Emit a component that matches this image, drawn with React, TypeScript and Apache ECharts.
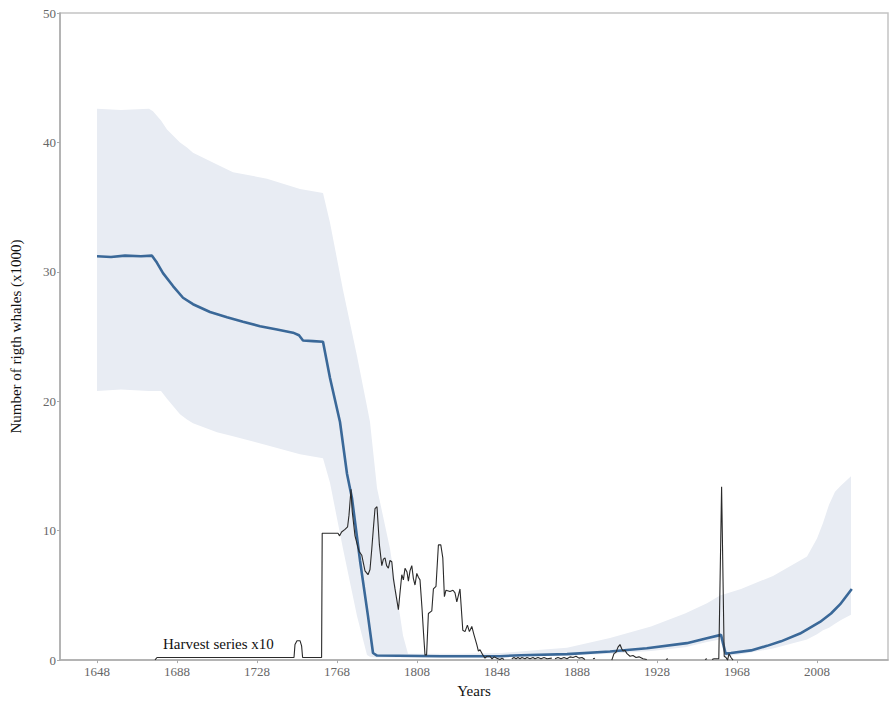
import React, { useEffect, useRef } from "react";
import * as echarts from "echarts";

// ---- Data ----
const xTicks = [1648, 1688, 1728, 1768, 1808, 1848, 1888, 1928, 1968, 2008];

// Confidence band (years, lower bound, upper bound), thousands of whales
const bandYears = [1648, 1660, 1674, 1676, 1680, 1683, 1689.5, 1693, 1696, 1708, 1716, 1733, 1749.5, 1761, 1764.5, 1771, 1778, 1783, 1784.5, 1788, 1794.5, 1801, 1803.5, 1830, 1850, 1870, 1883, 1904.5, 1925, 1942, 1953, 1959.5, 1962, 1970, 1986, 2003, 2008, 2011, 2014, 2017, 2020, 2025];
const bandLower = [20.8, 20.9, 20.8, 20.8, 20.8, 20.2, 19.0, 18.6, 18.3, 17.6, 17.3, 16.6, 15.9, 15.6, 13.7, 8.6, 3.4, 0.4, 0.25, 0.2, 0.2, 0.2, 0.2, 0.2, 0.2, 0.3, 0.35, 0.5, 0.7, 1.0, 1.4, 1.6, 0.3, 0.45, 0.9, 1.6, 2.0, 2.3, 2.5, 2.8, 3.1, 3.5];
const bandUpper = [42.6, 42.5, 42.6, 42.4, 41.7, 41.0, 40.0, 39.6, 39.2, 38.3, 37.7, 37.2, 36.4, 36.1, 33.8, 28.6, 23.5, 19.6, 18.4, 13.3, 8.6, 1.9, 0.5, 0.5, 0.55, 0.8, 0.95, 1.7, 2.6, 3.6, 4.4, 5.0, 5.1, 5.5, 6.5, 8.0, 9.4, 10.6, 12.0, 13.0, 13.5, 14.2];

// Mean population estimate
const meanYears = [1648, 1655, 1662, 1670, 1675.5, 1678, 1681, 1686, 1691, 1696, 1704.5, 1713, 1721, 1729.5, 1738, 1746, 1749, 1751, 1756, 1761, 1764.5, 1769.5, 1773, 1775.5, 1779.5, 1783.5, 1786, 1788, 1820, 1849.5, 1860, 1883, 1904.5, 1922.9, 1942.9, 1952.9, 1960, 1962.3, 1965, 1975, 1983, 1990, 1999.5, 2009.5, 2015, 2019.5, 2025.4];
const meanValues = [31.2, 31.15, 31.25, 31.2, 31.25, 30.7, 29.9, 28.9, 28.0, 27.5, 26.9, 26.5, 26.15, 25.8, 25.55, 25.3, 25.1, 24.7, 24.65, 24.6, 21.8, 18.4, 14.4, 12.5, 7.7, 3.4, 0.55, 0.35, 0.3, 0.3, 0.38, 0.46, 0.67, 0.92, 1.31, 1.69, 1.95, 0.5, 0.55, 0.75, 1.1, 1.45, 2.05, 2.95, 3.6, 4.3, 5.5];

// Harvest series x10 (null = gap)
const harvestYears = [1677, 1678, 1746.5, 1747, 1748, 1749.5, 1750.3, 1750.8, 1760.3, 1760.6, 1768.5, 1769.3, 1770.3, 1772, 1773.3, 1774, 1775, 1775.6, 1777, 1779, 1780.4, 1782, 1783.5, 1784.5, 1785.4, 1786.2, 1787, 1788, 1789.2, 1790.4, 1791.2, 1792, 1792.8, 1793.7, 1794.5, 1795.4, 1796.2, 1797, 1798.7, 1799.5, 1800.4, 1801.2, 1802, 1803, 1803.7, 1804.5, 1805.4, 1806.2, 1807, 1807.9, 1808.7, 1809.5, 1810.5, 1811.3, 1812, 1812.8, 1813.7, 1815.4, 1816.2, 1817.5, 1818.7, 1819.9, 1820.9, 1821.7, 1822.5, 1824.5, 1826, 1827, 1827.9, 1829.5, 1830.9, 1832, 1833.2, 1834.2, 1835.4, 1836.5, 1837.9, 1838.7, 1839.5, 1840.9, 1842, 1843, 1844.5, 1845.5, 1846.5, 1847.9, 1849.5, 1850.5, 1851.5, 1853,
  1855.4, 1856.5, 1857.5, 1858.5, 1859.5, 1860.5, 1862, 1863, 1864.5, 1866, 1867, 1868.5, 1870, 1871.5, 1873, 1875.4, 1876,
  1877, 1878.5, 1880, 1881.5, 1883, 1884.5, 1886, 1887.5, 1889, 1890.5, 1892, 1894,
  1896, 1897, 1899,
  1905.4, 1906.5, 1907.5, 1908.5, 1909.5, 1910.3, 1911, 1912, 1913, 1914.5, 1916, 1917.5, 1919, 1921, 1922.9, 1925,
  1932.5, 1933.5, 1940,
  1952, 1953, 1954.5,
  1955.5, 1956.5, 1958.9, 1960.3, 1961.6, 1962.5, 1963.3, 1964, 1965, 1966];
const harvestValues = [0.02, 0.2, 0.2, 1.2, 1.5, 1.5, 1.1, 0.2, 0.2, 9.8, 9.8, 9.6, 9.9, 10.1, 10.3, 11.2, 13.2, 11.5, 9.6, 8.4, 8.1, 6.9, 6.6, 7.0, 8.6, 10.2, 11.7, 11.85, 8.9, 7.3, 7.8, 7.9, 7.3, 7.1, 7.7, 7.6, 6.3, 5.5, 3.9, 5.2, 6.6, 6.2, 7.1, 6.8, 6.1, 6.9, 7.3, 6.3, 5.8, 6.7, 6.4, 6.2, 4.0, 2.0, 0.4, 0.4, 3.6, 3.8, 5.5, 5.7, 8.9, 8.9, 7.9, 4.9, 5.4, 5.3, 5.4, 5.2, 4.5, 5.5, 2.3, 2.2, 2.7, 2.2, 2.6, 1.95, 1.2, 0.7, 0.8, 0.4, 0.15, 0.3, 0.3, 0.1, 0.25, 0.15, 0.05, 0.15, 0.05, null,
  0.1, 0.2, 0.1, 0.2, 0.1, 0.2, 0.1, 0.2, 0.1, 0.2, 0.1, 0.2, 0.1, 0.2, 0.1, 0.15, null,
  0.1, 0.2, 0.1, 0.2, 0.1, 0.25, 0.2, 0.3, 0.15, 0.2, 0.05, null,
  0.1, 0.15, null,
  0.0, 0.5, 0.6, 1.0, 1.2, 0.9, 0.7, 0.75, 0.5, 0.3, 0.35, 0.2, 0.25, 0.1, 0.05, null,
  0.05, 0.1, null,
  0.05, 0.1, null,
  0.05, 0.1, 0.1, 13.4, 0.3, 0.2, 0.0, 0.5, 0.2, 0.0];

const FONT = "'Liberation Serif', 'Times New Roman', serif";

export default function App() {
  const ref = useRef<HTMLDivElement>(null);

  useEffect(() => {
    document.body.style.margin = "0";
    if (!ref.current) return;
    const chart = echarts.init(ref.current, undefined, { renderer: "svg" });

    const bandData = bandYears.map((y, i) => [y, bandLower[i], bandUpper[i]]);
    const meanData = meanYears.map((y, i) => [y, meanValues[i]]);
    const harvestData = harvestYears.map((y, i) => [y, harvestValues[i]]);

    chart.setOption({
      animation: false,
      backgroundColor: "#ffffff",
      grid: {
        left: 60,
        top: 13,
        right: 1,
        bottom: 41,
        show: true,
        borderColor: "#c4c4c4",
        borderWidth: 1.5,
        backgroundColor: "transparent",
      },
      xAxis: {
        type: "value",
        min: 1629.5,
        max: 2043.5,
        name: "Years",
        nameLocation: "middle",
        nameGap: 21,
        nameTextStyle: { fontFamily: FONT, fontSize: 15, color: "#111" },
        axisLine: { show: true, lineStyle: { color: "#aaaaaa", width: 1.5 } },
        axisTick: { show: true, length: 3, customValues: xTicks, lineStyle: { color: "#aaaaaa" } },
        axisLabel: {
          customValues: xTicks,
          formatter: (v: number) => String(v),
          fontFamily: FONT,
          fontSize: 13,
          color: "#666",
          margin: 5,
        },
        splitLine: { show: false },
      },
      yAxis: {
        type: "value",
        min: 0,
        max: 50,
        interval: 10,
        name: "Number of rigth whales (x1000)",
        nameLocation: "middle",
        nameGap: 37,
        nameTextStyle: { fontFamily: FONT, fontSize: 15, color: "#111" },
        axisLine: { show: true, lineStyle: { color: "#aaaaaa", width: 1.5 } },
        axisTick: { show: true, length: 3, lineStyle: { color: "#aaaaaa" } },
        axisLabel: { fontFamily: FONT, fontSize: 13, color: "#666", margin: 4 },
        splitLine: { show: false },
      },
      series: [
        {
          name: "band",
          type: "custom",
          data: bandData,
          encode: { x: 0, y: [1, 2] },
          silent: true,
          z: 1,
          renderItem: (params: any, api: any) => {
            if (params.dataIndex !== 0) return null;
            const pts: number[][] = [];
            for (let i = 0; i < bandYears.length; i++) {
              pts.push(api.coord([bandYears[i], bandUpper[i]]));
            }
            for (let i = bandYears.length - 1; i >= 0; i--) {
              pts.push(api.coord([bandYears[i], bandLower[i]]));
            }
            return {
              type: "polygon",
              shape: { points: pts },
              style: { fill: "#e8ecf3", stroke: "none" },
            };
          },
        },
        {
          name: "mean",
          type: "line",
          data: meanData,
          symbol: "none",
          lineStyle: { color: "#3a6898", width: 2.6 },
          z: 3,
        },
        {
          name: "harvest",
          type: "line",
          data: harvestData,
          symbol: "none",
          connectNulls: false,
          lineStyle: { color: "#2a2a2a", width: 1.1 },
          z: 4,
        },
      ],
      graphic: [
        {
          type: "text",
          left: 163,
          top: 636,
          style: {
            text: "Harvest series x10",
            font: `15px ${FONT}`,
            fill: "#111",
          },
        },
      ],
    });

    return () => chart.dispose();
  }, []);

  return <div ref={ref} style={{ width: 889, height: 703 }} />;
}
